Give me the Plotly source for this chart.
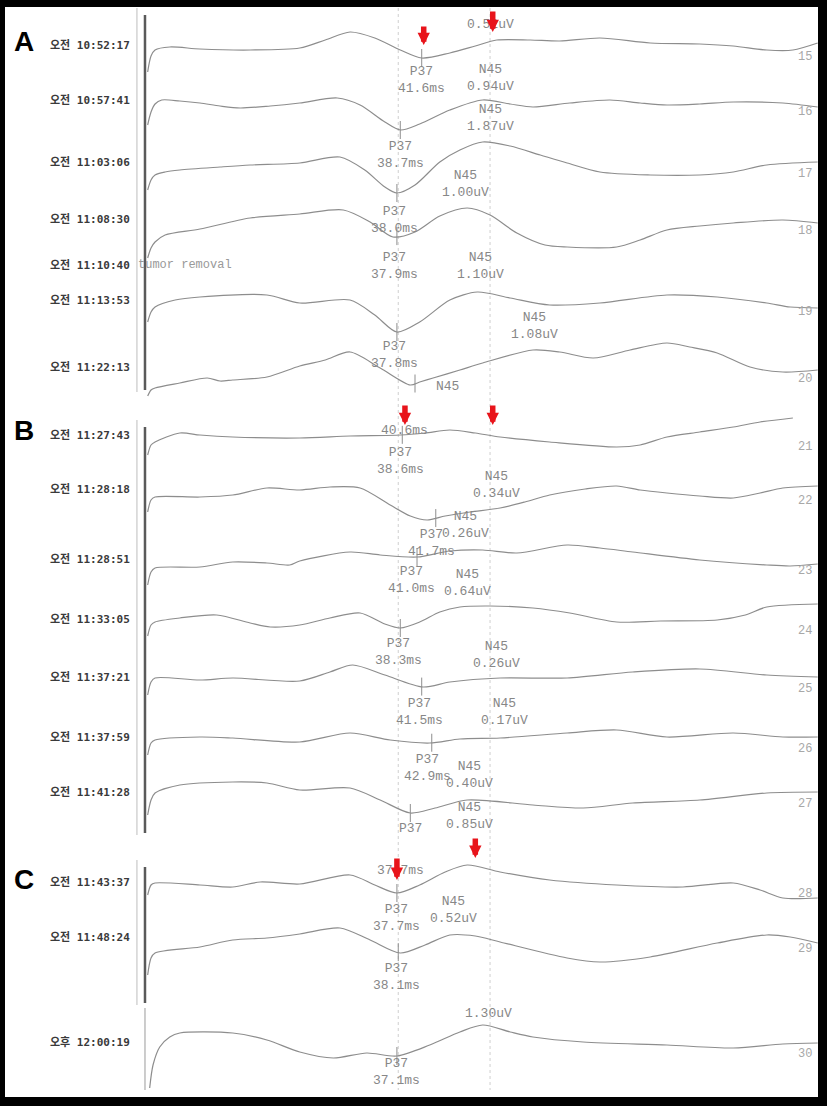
import numpy as np
import plotly.graph_objects as go

# ---------------- data ----------------
channels = [15, 16, 17, 18, 19, 20, 21, 22, 23, 24, 25, 26, 27, 28, 29, 30]
times = ["오전 10:52:17", "오전 10:57:41", "오전 11:03:06", "오전 11:08:30",
         "오전 11:13:53", "오전 11:22:13", "오전 11:27:43", "오전 11:28:18",
         "오전 11:28:51", "오전 11:33:05", "오전 11:37:21", "오전 11:37:59",
         "오전 11:41:28", "오전 11:43:37", "오전 11:48:24", "오후 12:00:19"]

lat_15 = [0.7, 1.2, 1.8, 4.0, 8.5, 16.0, 23.4, 27.2, 30.9, 34.6, 38.4, 41.6, 45.8, 49.6, 52.8, 57.8, 62.2, 68.2, 75.7, 83.1, 88.1, 93.1, 97.0, 100.7]
amp_15 = [-1.2, -0.4, -0.1, 0.05, -0.05, -0.1, 0, 0.4, 0.8, 0.5, -0.1, -0.5, -0.25, 0.1, 0.4, 0.4, 0.35, 0.5, 0.25, 0.2, 0.1, -0.1, -0.1, 0.25]
lat_16 = [0.7, 1.2, 1.8, 2.8, 5.5, 8.5, 11.5, 14.5, 19.0, 23.4, 29.0, 32.4, 36.1, 38.4, 41.3, 45.8, 50.7, 54.8, 58.2, 63.7, 69.7, 74.2, 78.2, 83.1, 88.1, 95.5, 100.7]
amp_16 = [-1.1, -0.45, -0.05, 0.15, 0.1, 0, -0.15, -0.25, -0.15, 0, 0.25, -0.1, -0.95, -1.35, -1.05, -0.35, 0.15, -0.05, -0.2, 0, 0.15, 0, -0.1, -0.05, 0.05, 0, -0.2]
lat_17 = [0.7, 1.2, 1.8, 3.3, 5.5, 11.5, 16.0, 23.4, 29.4, 33.1, 36.1, 37.9, 40.6, 44.3, 47.3, 50.7, 54.8, 59.3, 63.3, 68.2, 75.7, 83.1, 88.1, 93.1, 100.7]
amp_17 = [-1.25, -0.75, -0.5, -0.35, -0.25, -0.1, 0, 0.1, 0.4, -0.25, -1.1, -1.4, -1.0, 0.15, 0.75, 1.15, 0.95, 0.5, 0.1, -0.35, -0.5, -0.5, -0.35, 0, 0.15]
lat_18 = [0.7, 1.2, 1.8, 3.3, 8.5, 16.0, 23.4, 29.9, 33.9, 37.3, 40.6, 44.3, 48.4, 51.8, 55.8, 60.0, 63.3, 70.7, 74.2, 78.2, 83.1, 88.1, 95.5, 100.7]
amp_18 = [-1.8, -1.3, -1.0, -0.65, -0.35, 0.2, 0.4, 0.6, 0, -0.75, -0.5, 0.3, 0.7, 0.35, -0.55, -1.15, -1.25, -1.25, -0.9, -0.4, -0.2, -0.05, 0.1, -0.05]
lat_19 = [0.7, 1.2, 1.8, 4.8, 8.5, 18.5, 23.4, 30.9, 34.6, 37.9, 41.3, 45.8, 49.9, 54.8, 60.7, 68.2, 78.2, 85.7, 93.1, 96.6, 100.7]
amp_19 = [-0.95, -0.45, -0.2, 0.15, 0.3, 0.4, 0, 0.15, -0.6, -1.45, -0.95, 0.15, 0.55, 0.25, -0.1, 0, 0.4, 0.3, 0, -0.2, -0.25]
lat_20 = [0.7, 1.2, 1.8, 5.5, 9.6, 11.5, 13.4, 18.5, 23.4, 27.2, 30.9, 35.4, 39.9, 41.3, 43.3, 47.3, 50.7, 58.2, 62.2, 67.2, 72.7, 78.2, 81.6, 85.7, 90.6, 95.5, 100.7]
amp_20 = [-1.3, -1.0, -0.9, -0.65, -0.4, -0.55, -0.5, -0.35, 0.2, 0.5, 0.9, 0.1, -0.75, -0.6, -0.4, 0, 0.35, 1.0, 0.9, 0.6, 1.0, 1.35, 1.15, 0.85, 0.15, -0.1, 0]
lat_21 = [0.7, 1.2, 1.8, 5.5, 8.5, 13.4, 23.4, 30.9, 38.4, 42.1, 45.8, 49.6, 53.3, 60.7, 70.7, 74.2, 78.2, 83.1, 88.1, 92.1, 97.0]
amp_21 = [-0.85, -0.35, -0.2, 0.25, 0.15, 0.05, 0, 0.1, 0.15, 0.25, 0.4, 0.25, 0.05, -0.2, -0.45, -0.35, 0.05, 0.3, 0.55, 0.8, 1.0]
lat_22 = [0.7, 1.2, 1.8, 8.5, 13.4, 18.5, 23.4, 27.9, 32.4, 36.9, 39.9, 42.4, 45.1, 48.8, 53.3, 57.0, 60.7, 66.0, 70.7, 74.2, 78.2, 83.1, 88.1, 92.1, 95.5, 100.7]
amp_22 = [-1.0, -0.4, -0.25, -0.25, -0.15, 0.2, 0.1, 0.25, 0.2, -0.65, -1.2, -1.4, -1.2, -1.0, -0.8, -0.5, -0.15, 0.15, 0.3, 0.1, -0.05, -0.2, -0.3, -0.05, 0.2, 0.3]
lat_23 = [0.7, 1.2, 1.8, 8.5, 13.4, 18.5, 21.9, 23.4, 30.9, 35.4, 40.9, 45.8, 50.7, 55.8, 63.3, 68.2, 73.1, 83.1, 93.1, 96.6, 100.7]
amp_23 = [-1.15, -0.5, -0.3, -0.25, 0, -0.05, -0.15, 0.05, 0.5, 0.35, 0.25, 0.55, 0.6, 0.45, 0.85, 0.7, 0.5, 0.1, -0.15, -0.2, -0.1]
lat_24 = [0.7, 1.2, 1.8, 5.5, 11.0, 16.0, 19.0, 23.4, 27.9, 32.4, 36.1, 38.4, 41.3, 44.3, 47.3, 51.8, 58.2, 63.7, 70.7, 77.2, 85.7, 89.9, 93.1, 100.7]
amp_24 = [-0.7, -0.15, 0, 0.2, 0.35, -0.05, -0.25, -0.15, 0.2, 0.45, -0.1, -0.3, 0, 0.5, 0.75, 0.8, 0.7, 0.45, 0, 0.05, 0.1, 0.35, 0.75, 0.9]
lat_25 = [0.7, 1.2, 1.8, 8.5, 13.4, 23.4, 27.9, 31.3, 36.1, 41.8, 45.8, 53.3, 63.3, 73.1, 83.1, 93.1, 100.7]
amp_25 = [-0.75, -0.1, 0.1, 0, 0.1, -0.05, 0.4, 0.75, 0.25, -0.35, -0.1, 0.1, 0.1, 0.4, 0.55, 0.25, 0.15]
lat_26 = [0.7, 1.2, 1.8, 8.5, 13.4, 23.4, 30.9, 36.9, 42.8, 47.3, 53.3, 63.3, 70.7, 78.2, 88.1, 95.5, 100.7]
amp_26 = [-0.75, -0.15, 0, 0.15, 0.1, -0.1, 0.35, 0, -0.15, 0.05, 0.1, 0.35, 0.5, 0.15, 0.35, 0.15, 0.15]
lat_27 = [0.7, 1.2, 1.8, 5.5, 13.4, 18.5, 23.4, 30.9, 35.4, 39.9, 43.6, 48.4, 58.2, 65.7, 73.1, 83.1, 93.1, 100.7]
amp_27 = [-1.0, -0.25, 0.1, 0.5, 0.65, 0.6, 0.25, 0.35, -0.25, -0.9, -0.65, -0.25, -0.5, -0.65, -0.4, -0.25, 0.1, 0.15]
lat_28 = [0.7, 1.2, 1.8, 8.5, 13.4, 17.5, 23.4, 30.9, 34.6, 37.9, 41.3, 45.1, 48.4, 53.3, 60.7, 70.7, 80.6, 88.1, 92.1, 95.5, 100.7]
amp_28 = [-0.5, 0, 0.1, 0, -0.1, 0.15, 0.05, 0.5, 0, -0.4, 0, 0.65, 1.0, 0.65, 0.25, 0, -0.1, 0.1, -0.25, -0.65, -0.65]
lat_29 = [0.7, 1.2, 1.8, 8.5, 13.4, 18.5, 23.4, 29.4, 33.9, 38.4, 42.1, 45.8, 49.6, 53.3, 63.3, 68.2, 75.7, 85.7, 93.1, 96.6, 100.7]
amp_29 = [-1.75, -0.9, -0.65, -0.35, 0, 0.1, 0.3, 0.6, 0, -0.65, -0.25, 0.25, 0.2, -0.1, -0.9, -1.1, -0.85, -0.15, 0.25, 0.15, -0.15]
lat_30 = [1.0, 1.5, 2.5, 4.0, 5.5, 13.4, 18.5, 23.4, 28.4, 33.4, 37.9, 42.8, 47.3, 50.7, 54.8, 58.2, 65.7, 78.2, 88.1, 95.5, 100.7]
amp_30 = [-2.15, -1.0, -0.1, 0.4, 0.6, 0.6, 0.25, -0.35, -0.65, -0.4, -0.55, 0, 0.65, 1.0, 0.65, 0.4, 0.15, 0, -0.15, 0.05, 0.1]

# P37 cursor latency (ms) per channel
p37_ms = [41.6, 38.4, 37.9, 37.9, 37.9, 40.6, 38.7, 43.7, 40.9, 38.4, 41.6, 43.1, 39.9, 37.9, 38.1, 37.9]

# cursor read-outs: text, latency (ms), level (uV on montage scale)
readouts = [
    ("0.52uV", 51.8, -1.2),
    ("P37<br>41.6ms", 41.6, -4.0), ("N45<br>0.94uV", 51.8, -3.9),
    ("P37<br>38.7ms", 38.4, -7.75), ("N45<br>1.87uV", 51.8, -5.9),
    ("P37<br>38.0ms", 37.6, -11.0), ("N45<br>1.00uV", 48.1, -9.2),
    ("P37<br>37.9ms", 37.6, -13.3), ("N45<br>1.10uV", 50.3, -13.3),
    ("P37<br>37.8ms", 37.6, -17.75), ("N45<br>1.08uV", 58.5, -16.3),
    ("N45", 45.4, -19.3),
    ("40.6ms", 39.1, -21.5),
    ("P37<br>38.6ms", 38.4, -23.05), ("N45<br>0.34uV", 52.8, -24.25),
    ("N45<br>0.26uV", 48.1, -26.25), ("P37<br>41.7ms", 43.1, -27.15),
    ("P37<br>41.0ms", 40.1, -29.0), ("N45<br>0.64uV", 48.4, -29.15),
    ("P37<br>38.3ms", 38.1, -32.6), ("N45<br>0.26uV", 52.8, -32.75),
    ("P37<br>41.5ms", 41.3, -35.6), ("N45<br>0.17uV", 54.0, -35.6),
    ("P37<br>42.9ms", 42.5, -38.4), ("N45<br>0.40uV", 48.8, -38.75),
    ("P37", 39.9, -41.4), ("N45<br>0.85uV", 48.8, -40.8),
    ("37.7ms", 38.4, -43.5),
    ("P37<br>37.7ms", 37.9, -45.9), ("N45<br>0.52uV", 46.3, -45.5),
    ("P37<br>38.1ms", 37.9, -48.85),
    ("1.30uV", 51.5, -50.65),
    ("P37<br>37.1ms", 37.9, -53.6),
]

# ---------------- montage layout ----------------
LAT = [lat_15, lat_16, lat_17, lat_18, lat_19, lat_20, lat_21, lat_22,
       lat_23, lat_24, lat_25, lat_26, lat_27, lat_28, lat_29, lat_30]
AMP = [amp_15, amp_16, amp_17, amp_18, amp_19, amp_20, amp_21, amp_22,
       amp_23, amp_24, amp_25, amp_26, amp_27, amp_28, amp_29, amp_30]
row_offset = [-2.4, -5.15, -8.25, -11.1, -15.15, -18.5, -21.9, -24.6,
              -28.1, -31.1, -34.0, -37.0, -39.75, -44.25, -47.0, -52.25]

TRACE = "#8d8d8d"
TXT = "#878787"
MONO = "Liberation Mono, DejaVu Sans Mono, monospace"
TIMEFONT = "DejaVu Sans Mono, Noto Sans CJK KR"

X0, X1 = -21.34, 102.09
Y0, Y1 = -55.3, 0.0

fig = go.Figure()

for i, ch in enumerate(channels):
    y = [row_offset[i] + a for a in AMP[i]]
    fig.add_trace(go.Scatter(
        x=LAT[i], y=y, mode="lines",
        line=dict(color=TRACE, width=1.2, shape="spline", smoothing=0.8),
        hoverinfo="skip", showlegend=False))
    yc = row_offset[i] + float(np.interp(p37_ms[i], LAT[i], AMP[i]))
    fig.add_trace(go.Scatter(
        x=[p37_ms[i], p37_ms[i]], y=[yc + 0.45, yc - 0.45], mode="lines",
        line=dict(color=TRACE, width=1), hoverinfo="skip", showlegend=False))

shapes = []
# white sheet inside black frame
shapes.append(dict(type="rect", xref="paper", yref="paper",
                   x0=5 / 827, x1=818 / 827, y0=1 - 1097 / 1106, y1=1 - 7 / 1106,
                   fillcolor="white", line=dict(width=0), layer="below"))
# dotted latency guides
for gx in (38.1, 51.8):
    shapes.append(dict(type="line", x0=gx, x1=gx, y0=-0.4, y1=-54.5,
                       line=dict(color="#cfcfcf", width=1, dash="dot"), layer="below"))
# sweep axes (thin) and stimulus artefact (thick)
for (ya, yb) in [(-0.4, -19.6), (-21.0, -41.75), (-43.0, -50.25)]:
    shapes.append(dict(type="line", x0=-0.9, x1=-0.9, y0=ya, y1=yb,
                       line=dict(color="#bdbdbd", width=1)))
    shapes.append(dict(type="line", x0=0.3, x1=0.3, y0=ya - 0.35, y1=yb + 0.1,
                       line=dict(color="#5a5a5a", width=2.5)))
shapes.append(dict(type="line", x0=0.3, x1=0.3, y0=-50.4, y1=-54.5,
                   line=dict(color="#9a9a9a", width=1)))

ann = []
for t, x, y in readouts:
    ann.append(dict(x=x, y=y, text=t, showarrow=False, xanchor="center", yanchor="middle",
                    font=dict(family=MONO, size=13, color=TXT)))
for i, ch in enumerate(channels):
    ann.append(dict(x=98.8, y=row_offset[i] - 0.45, text=str(ch), showarrow=False,
                    font=dict(family=MONO, size=12, color="#a8a8a8")))
    ann.append(dict(x=-1.6, y=row_offset[i] + 0.15, text="<b>" + times[i] + "</b>",
                    showarrow=False, xanchor="right",
                    font=dict(family=TIMEFONT, size=11, color="#3a3a3a")))
ann.append(dict(x=-1.6, y=-13.25, text="<b>오전 11:10:40</b>", showarrow=False, xanchor="right",
                font=dict(family=TIMEFONT, size=11, color="#3a3a3a")))
ann.append(dict(x=-1.0, y=-13.25, text="tumor removal", showarrow=False, xanchor="left",
                font=dict(family=MONO, size=12, color="#999")))
# panel letters
for letter, yy in (("A", -2.05), ("B", -21.5), ("C", -43.95)):
    ann.append(dict(x=-17.7, y=yy, text="<b>" + letter + "</b>", showarrow=False,
                    font=dict(family="Liberation Sans, Arial", size=28, color="black")))
# red arrows marking P37 / N45
for ax_ms, ay_uv, length in ((41.9, -2.25, 20), (52.2, -1.6, 22), (39.1, -21.25, 21),
                              (52.2, -21.25, 21), (37.9, -44.0, 23), (49.6, -42.9, 21)):
    ann.append(dict(x=ax_ms, y=ay_uv, text="", showarrow=True, ax=0, ay=-length,
                    arrowcolor="#e8141b", arrowwidth=5.5, arrowhead=2, arrowsize=0.45,
                    standoff=0))

fig.update_layout(
    width=827, height=1106,
    margin=dict(l=0, r=0, t=0, b=0),
    paper_bgcolor="black", plot_bgcolor="black",
    xaxis=dict(range=[X0, X1], visible=False, fixedrange=True),
    yaxis=dict(range=[Y0, Y1], visible=False, fixedrange=True),
    shapes=shapes, annotations=ann, showlegend=False,
)

fig.write_html("out.html", config={"displayModeBar": False},
               post_script="document.body.style.margin='0';document.body.style.overflow='hidden';")
